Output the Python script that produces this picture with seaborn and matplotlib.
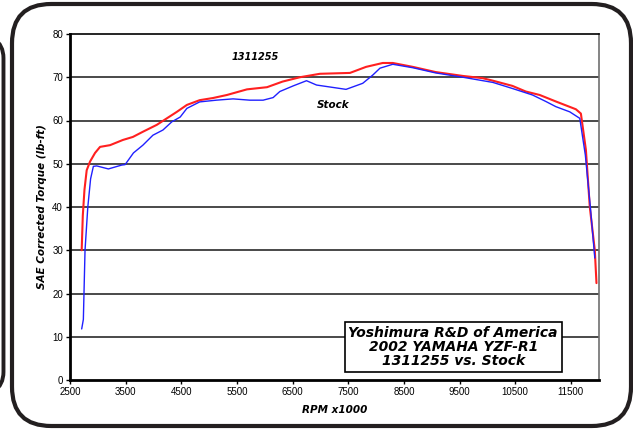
import numpy as np
import pandas as pd
import matplotlib
matplotlib.use("Agg")
import matplotlib.pyplot as plt
import seaborn as sns
from matplotlib.patches import FancyBboxPatch

# ---- data ----
rpm_mod = [2710, 2730, 2760, 2800, 2860, 2950, 3040, 3220, 3450, 3630, 3810, 4060, 4240, 4420,
           4600, 4830, 5070, 5320, 5680, 6040, 6320, 6630, 6990, 7530, 7820, 8120, 8300,
           8660, 9070, 9560, 9910, 10100, 10450, 10690, 10940, 11230, 11590, 11680, 11770,
           11840, 11930, 11960]
tq_mod = [30.0, 38.0, 44.0, 48.5, 50.5, 52.5, 53.9, 54.3, 55.5, 56.2, 57.4, 59.0, 60.5, 62.0,
          63.6, 64.7, 65.2, 65.9, 67.2, 67.7, 69.0, 70.0, 70.8, 71.0, 72.4, 73.3, 73.3,
          72.4, 71.2, 70.3, 69.8, 69.2, 68.0, 66.7, 65.9, 64.4, 62.6, 61.6, 53.2,
          40.0, 30.0, 22.4]

rpm_stock = [2710, 2740, 2770, 2820, 2870, 2920, 2980, 3190, 3430, 3490, 3640, 3810, 3990,
             4170, 4330, 4480, 4600, 4830, 5130, 5430, 5730, 5970, 6150, 6270, 6510, 6750,
             6930, 7460, 7760, 7940, 8070, 8300, 8660, 9070, 9560, 10100, 10450, 10810,
             11050, 11230, 11480, 11660, 11760, 11850, 11930]
tq_stock = [11.8, 14.0, 30.0, 40.0, 46.5, 49.4, 49.5, 48.8, 49.7, 49.8, 52.5, 54.3, 56.6,
            57.8, 59.7, 60.8, 62.8, 64.3, 64.7, 65.0, 64.7, 64.7, 65.3, 66.7, 68.0, 69.2,
            68.2, 67.2, 68.6, 70.5, 72.1, 73.0, 72.2, 71.0, 70.0, 68.8, 67.4, 65.9,
            64.4, 63.2, 62.0, 60.5, 52.0, 40.0, 28.2]

series_names = ["1311255", "Stock"]
x_ticks = [2500, 3500, 4500, 5500, 6500, 7500, 8500, 9500, 10500, 11500]
y_ticks = [0, 10, 20, 30, 40, 50, 60, 70, 80]
title_lines = ["Yoshimura R&D of America", "2002 YAMAHA YZF-R1", "1311255 vs. Stock"]

df = pd.concat([
    pd.DataFrame({"rpm": rpm_mod, "torque": tq_mod, "run": series_names[0]}),
    pd.DataFrame({"rpm": rpm_stock, "torque": tq_stock, "run": series_names[1]}),
])

sns.set_style("white")
plt.rcParams["font.family"] = ["Liberation Sans", "DejaVu Sans"]
for key in ["text.color", "axes.labelcolor", "xtick.color", "ytick.color"]:
    plt.rcParams[key] = "black"

fig = plt.figure(figsize=(6.33, 4.30), dpi=100)
ax = fig.add_axes([70 / 633, 50 / 430, (598.7 - 70) / 633, (380 - 34) / 430])

# outer decorative frames
frame_col = "#231f20"
fig.patches.append(FancyBboxPatch((-0.5, 0.075), 0.5055, 0.85,
                                  boxstyle="round,pad=0,rounding_size=0.06",
                                  transform=fig.transFigure, fill=False,
                                  ec=frame_col, lw=2.8, zorder=0))
fig.patches.append(FancyBboxPatch((12 / 633, 4 / 430), (631 - 12) / 633, (426 - 4) / 430,
                                  boxstyle="round,pad=0,rounding_size=0.062",
                                  mutation_aspect=633 / 430,
                                  transform=fig.transFigure, fill=False,
                                  ec=frame_col, lw=3.0, zorder=0))

for y in y_ticks[1:-1]:
    ax.axhline(y, color="#3a3a3a", lw=1.3, zorder=1)

sns.lineplot(data=df, x="rpm", y="torque", hue="run", estimator=None, sort=False,
             palette={"1311255": "#ff2020", "Stock": "#2020ff"}, legend=False, ax=ax, zorder=3)
ax.lines[-2].set_linewidth(1.5)
ax.lines[-1].set_linewidth(1.0)

ax.set_xlim(2500, 12000)
ax.set_ylim(0, 80)
ax.set_xticks(x_ticks)
ax.set_yticks(y_ticks)
ax.tick_params(axis="both", labelsize=7, length=3, width=1, color="black", pad=2,
               direction="out", left=True, bottom=True)

for side in ["left", "bottom"]:
    ax.spines[side].set_color("black")
    ax.spines[side].set_linewidth(2)
ax.spines["top"].set_color("black")
ax.spines["top"].set_linewidth(1.2)
ax.spines["right"].set_color("#707070")
ax.spines["right"].set_linewidth(1.2)

ax.set_xlabel("RPM x1000", fontsize=7.5, fontweight="bold", fontstyle="italic",
              family="DejaVu Sans", labelpad=6)
ax.set_ylabel("SAE Corrected Torque (lb-ft)", fontsize=7.5, fontweight="bold",
              fontstyle="italic", family="DejaVu Sans", labelpad=4)

ax.text(5820, 74.7, series_names[0], fontsize=7, fontweight="bold", fontstyle="italic",
        family="DejaVu Sans", ha="center", va="center", zorder=5)
ax.text(7220, 63.6, series_names[1], fontsize=7.5, fontweight="bold", fontstyle="italic",
        family="DejaVu Sans", ha="center", va="center", zorder=5)

ax.text(9385, 7.6, "\n".join(title_lines), fontsize=10, fontweight="bold", fontstyle="italic",
        family="DejaVu Sans", ha="center", va="center", linespacing=1.0, zorder=6,
        bbox=dict(boxstyle="square,pad=0.28", fc="white", ec="black", lw=1.2))

fig.savefig("out.png", dpi=100)
